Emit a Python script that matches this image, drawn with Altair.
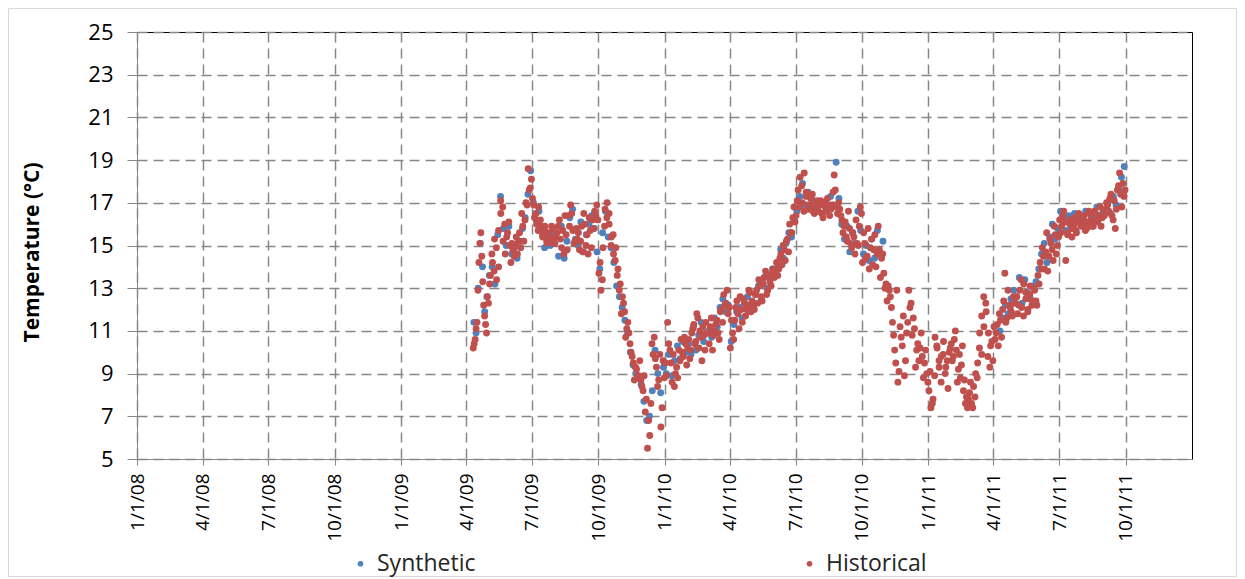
import altair as alt
import pandas as pd

# ---------------- data ----------------
# Historical water temperature (°C); one inner list per month.
# Two readings of the dense daily cloud per month (set A and set B).
hist_start_2009 = "2009-04-10"   # Apr 2009 .. Dec 2009
hist_2009_a = [
    [10.2, 10.6, 11.4, 14.2, 15.6, 13.3, 11.7, 10.9],
    [12.3, 13.6, 14.2, 15.3, 13.4, 14.0, 17.1, 16.8, 16.0, 15.4, 16.1],
    [14.2, 14.8, 15.0, 14.6, 15.6, 16.5, 15.2, 17.0, 18.6, 17.7],
    [17.2, 16.3, 16.0, 16.8, 15.9, 15.4, 15.7, 15.2, 15.6, 15.3, 15.8],
    [15.1, 15.6, 16.2, 14.9, 14.6, 15.5, 16.4, 16.9, 15.7, 15.2],
    [15.3, 14.8, 15.9, 16.5, 15.0, 14.6, 15.7, 16.2, 16.6, 16.9],
    [13.7, 12.9, 14.9, 16.7, 17.0, 16.0, 15.0, 15.5, 14.3, 13.6, 12.9],
    [11.8, 12.3, 10.7, 11.4, 10.4, 9.8, 8.7, 9.2, 8.9, 8.7],
    [8.2, 7.2, 5.5, 6.1, 10.4, 10.7, 9.3, 8.7, 6.5, 9.6],
]
hist_2009_b = [
    [10.4, 11.1, 12.9, 15.1, 14.5, 12.2, 11.3, 12.6],
    [13.2, 14.6, 13.8, 14.9, 15.7, 16.5, 15.2, 14.6, 15.6, 15.0],
    [15.1, 14.5, 15.4, 15.2, 14.9, 15.9, 16.2, 16.9, 17.6, 18.1],
    [16.9, 16.5, 15.7, 16.2, 15.5, 15.9, 15.1, 15.5, 15.9, 15.1],
    [15.4, 15.9, 15.3, 15.7, 16.4, 14.8, 15.9, 16.5, 15.1, 15.8],
    [15.6, 15.2, 14.7, 16.0, 15.5, 16.3, 14.9, 15.8, 16.4, 16.2],
    [14.2, 13.4, 15.9, 16.3, 16.5, 15.4, 14.6, 14.9, 13.9, 13.2],
    [12.6, 11.9, 11.1, 10.9, 10.0, 9.5, 9.3, 8.9, 9.6, 8.4],
    [8.9, 7.8, 6.8, 7.6, 9.9, 9.7, 8.4, 9.9, 7.4, 8.8],
]
hist_start_2010 = "2010-01-01"   # Jan 2010 .. Dec 2010
hist_2010_a = [
    [9.5, 11.4, 10.1, 8.6, 8.4, 9.3, 10.1, 10.6, 9.8, 10.4],
    [10.2, 9.7, 10.9, 11.3, 10.5, 11.6, 11.0, 9.6, 10.8, 11.4],
    [10.9, 11.2, 10.1, 11.0, 11.5, 10.6, 12.0, 12.7, 12.3, 11.8],
    [10.2, 10.9, 11.5, 12.4, 11.1, 12.0, 12.5, 11.7, 12.2, 12.8],
    [12.4, 12.0, 12.9, 13.4, 12.6, 13.2, 13.8, 12.9, 13.3, 13.7],
    [13.5, 14.2, 13.9, 14.6, 15.0, 14.3, 15.3, 16.0, 15.6, 16.8],
    [16.4, 17.6, 18.2, 17.0, 18.4, 17.3, 16.7, 16.9, 17.4, 16.5, 17.0],
    [16.6, 17.1, 16.3, 16.8, 17.2, 16.4, 16.9, 18.3, 16.8, 17.0],
    [16.4, 15.6, 16.1, 15.2, 15.8, 14.9, 15.4, 16.2, 15.0, 16.8],
    [14.2, 15.1, 14.5, 13.9, 15.3, 14.8, 14.0, 15.9, 13.5, 14.6],
    [13.0, 12.4, 12.9, 12.1, 10.8, 9.5, 8.6, 11.2, 10.3, 8.9],
    [10.9, 12.9, 12.3, 11.6, 9.3, 10.4, 10.2, 9.8, 9.5, 9.0],
]
hist_2010_b = [
    [8.9, 10.4, 9.5, 9.9, 9.0, 8.8, 9.6, 10.0, 10.7, 9.4],
    [10.6, 10.1, 11.1, 10.4, 11.8, 10.2, 10.7, 11.2, 10.1, 10.9],
    [10.4, 11.6, 10.8, 11.3, 10.9, 11.9, 11.4, 12.2, 12.9, 12.1],
    [11.5, 10.6, 12.1, 11.8, 12.6, 11.4, 12.3, 12.0, 12.9, 11.9],
    [12.1, 12.7, 12.3, 13.1, 12.4, 13.5, 12.7, 13.6, 13.1, 13.9],
    [13.8, 13.6, 14.4, 14.1, 14.8, 15.2, 14.7, 15.6, 16.3, 16.1],
    [17.1, 16.8, 17.8, 16.6, 17.5, 16.9, 17.2, 16.6, 16.9, 17.1],
    [16.9, 16.5, 17.0, 16.6, 16.9, 16.7, 17.5, 17.6, 16.5, 16.7],
    [16.2, 15.9, 15.4, 16.6, 15.1, 15.6, 14.6, 15.1, 15.9, 16.5],
    [15.6, 14.4, 15.8, 14.9, 14.1, 15.5, 14.6, 14.8, 14.4, 13.7],
    [13.2, 13.1, 12.6, 11.4, 10.1, 12.9, 9.1, 10.7, 11.7, 9.6],
    [11.4, 12.1, 10.8, 11.1, 10.1, 9.6, 10.9, 8.8, 10.1, 8.6],
]
hist_start_2011 = "2011-01-01"   # Jan 2011 .. Sep 2011
hist_2011_a = [
    [8.2, 7.4, 7.8, 10.7, 10.2, 9.3, 8.6, 9.9, 9.0, 9.6, 10.0],
    [10.4, 9.8, 11.0, 8.6, 9.9, 9.4, 8.2, 7.6, 7.4, 8.1],
    [7.6, 8.4, 9.0, 9.5, 10.9, 11.7, 12.6, 12.3, 9.8, 9.3, 10.5],
    [11.2, 10.9, 10.3, 11.5, 12.0, 13.7, 11.6, 12.2, 11.9, 12.6],
    [12.3, 11.8, 12.9, 12.1, 13.2, 12.5, 11.9, 12.7, 12.2, 13.0, 12.4],
    [13.6, 14.2, 14.9, 13.9, 15.6, 14.5, 15.1, 14.3, 15.5, 15.0],
    [16.2, 15.9, 16.6, 14.3, 15.6, 16.0, 15.8, 16.3, 15.7, 16.1, 16.4],
    [16.0, 16.4, 15.8, 16.6, 16.2, 15.9, 16.5, 16.1, 16.8, 16.3],
    [16.4, 17.0, 16.6, 17.4, 16.2, 15.8, 17.6, 18.4, 16.8, 17.3],
]
hist_2011_b = [
    [9.1, 7.6, 8.9, 10.3, 9.6, 9.8, 10.5, 9.3, 8.3, 10.2],
    [9.6, 10.6, 10.1, 9.2, 8.8, 10.3, 8.7, 7.9, 7.8, 8.6],
    [7.4, 7.9, 8.8, 10.2, 9.9, 11.2, 11.9, 10.9, 10.3, 9.6],
    [10.6, 11.3, 11.8, 10.7, 12.4, 11.4, 12.9, 12.1, 11.7, 12.3],
    [12.6, 12.2, 13.4, 11.7, 12.8, 12.0, 13.1, 12.4, 12.9, 12.2],
    [13.2, 13.9, 14.5, 14.7, 13.8, 15.3, 14.8, 15.9, 14.6, 15.4],
    [15.6, 16.4, 16.1, 15.5, 16.2, 15.4, 16.0, 15.6, 16.5, 15.9],
    [16.3, 15.7, 16.1, 16.5, 15.9, 16.6, 16.2, 16.4, 15.9, 16.7],
    [16.6, 16.9, 17.2, 16.4, 17.1, 16.7, 17.8, 17.4, 17.9, 17.6],
]

# Synthetic temperature (°C); one inner list per month.
syn_start_a = "2009-04-10"       # Apr 2009 .. Oct 2010
syn_a = [
    [11.4, 10.9, 13.0, 15.1, 14.0, 11.9, 12.6],
    [13.6, 14.0, 13.2, 15.5, 17.3, 15.8, 15.0, 15.9],
    [14.6, 14.9, 14.4, 15.2, 15.8, 16.3, 17.4, 18.5],
    [17.0, 16.2, 16.6, 15.7, 14.9, 15.5, 15.0, 15.6],
    [15.4, 14.5, 15.9, 14.4, 15.2, 16.3, 16.7, 15.3],
    [15.0, 16.1, 14.7, 15.5, 16.0, 16.4, 15.8, 14.7],
    [13.9, 15.6, 16.6, 15.4, 14.9, 14.2, 13.1, 12.6],
    [12.1, 11.5, 10.9, 10.0, 9.4, 9.0, 8.8, 8.5],
    [7.7, 6.8, 7.0, 8.2, 10.1, 9.0, 8.1, 9.3],
    [9.0, 9.9, 8.9, 9.6, 10.3, 9.7, 10.5, 10.0],
    [10.4, 9.9, 11.2, 10.1, 10.8, 11.4, 10.5, 10.9],
    [11.0, 10.7, 11.6, 11.2, 12.1, 12.5, 11.9, 12.2],
    [10.5, 11.3, 11.9, 12.1, 11.6, 12.3, 12.6, 12.0],
    [12.2, 12.7, 13.1, 12.5, 13.5, 13.0, 13.6, 13.9],
    [13.8, 14.1, 14.8, 14.4, 15.1, 15.6, 15.4, 16.2],
    [16.6, 17.3, 17.9, 16.9, 17.5, 16.8, 17.1, 16.6],
    [16.9, 16.5, 17.0, 16.7, 17.3, 16.9, 18.9, 17.2],
    [16.0, 15.3, 15.9, 14.7, 15.6, 15.1, 16.6, 15.7],
    [14.6, 15.0, 14.3, 15.3, 14.4, 15.7, 14.6, 15.2],
]
syn_start_b = "2011-04-08"       # Apr 2011 .. Sep 2011
syn_b = [
    [11.0, 11.6, 12.2, 11.8, 12.5, 12.9],
    [12.6, 13.5, 12.3, 13.4, 12.8, 12.5, 13.1, 13.3],
    [13.9, 14.6, 15.1, 14.2, 15.4, 16.0, 15.3, 15.8],
    [16.6, 16.2, 15.7, 16.4, 15.9, 16.5, 16.3, 16.1],
    [16.2, 16.6, 15.9, 16.4, 16.1, 16.8, 16.3, 16.5],
    [16.7, 17.0, 16.5, 17.3, 16.9, 17.6, 18.2, 18.7],
]

series_names = ["Synthetic", "Historical"]
series_colors = ["#4F81BD", "#C0504D"]
y_ticks = list(range(5, 26, 2))
tick_months = [(y, m) for y in range(2008, 2012) for m in (1, 4, 7, 10)]


def expand(first_day, month_lists, name, phase=0.5):
    """Spread each month's values evenly over that month."""
    rows = []
    first = pd.Timestamp(first_day)
    p0 = first.to_period("M")
    for i, vals in enumerate(month_lists):
        p = p0 + i
        s = first if i == 0 else p.start_time
        e = (p + 1).start_time
        n = len(vals)
        for j, v in enumerate(vals):
            t = s + (e - s) * ((j + phase) / n)
            rows.append({"date": t.strftime("%Y-%m-%dT%H:%M:%SZ"),
                         "temp": v, "series": name})
    return rows


hist_rows = []
for start, a, b in [(hist_start_2009, hist_2009_a, hist_2009_b),
                    (hist_start_2010, hist_2010_a, hist_2010_b),
                    (hist_start_2011, hist_2011_a, hist_2011_b)]:
    hist_rows += expand(start, a, "Historical", 0.25)
    hist_rows += expand(start, b, "Historical", 0.75)
hist_df = pd.DataFrame(hist_rows)
syn_df = pd.DataFrame(expand(syn_start_a, syn_a, "Synthetic")
                      + expand(syn_start_b, syn_b, "Synthetic"))

W, H = 1055, 427
PAD_B = 118
FONT = "Open Sans"

x_enc = alt.X(
    "date:T",
    scale=alt.Scale(type="utc", nice=False,
                    domain=[alt.DateTime(year=2008, month=1, date=1, utc=True),
                            alt.DateTime(year=2012, month=1, date=1, utc=True)]),
    axis=alt.Axis(
        values=[alt.DateTime(year=y, month=m, date=1, utc=True) for y, m in tick_months],
        format="%-m/%-d/%y", labelAngle=270, tickSize=6, labelPadding=8,
        labelFontSize=19, title=None,
    ),
)
y_enc = alt.Y(
    "temp:Q",
    scale=alt.Scale(domain=[5, 25], nice=False, zero=False),
    axis=alt.Axis(values=y_ticks, tickSize=10, labelPadding=14, labelFontSize=22,
                  title="Temperature (°C)", titleFontWeight="bold",
                  titleFontSize=21, titlePadding=45, titleY=220),
)
color_enc = alt.Color(
    "series:N",
    scale=alt.Scale(domain=series_names, range=series_colors),
    legend=alt.Legend(
        title=None, orient="none", legendX=212, legendY=520,
        direction="horizontal", columns=2, columnPadding=322,
        symbolType="circle", symbolSize=32, labelFontSize=23,
        labelFont=FONT, labelColor="#262626", labelOffset=5, padding=0,
    ),
)

border = alt.Chart(pd.DataFrame({"k": [0]})).mark_rect(
    fillOpacity=0, stroke="#D9D9D9", strokeWidth=1, clip=False
).encode(
    x=alt.value(-128.5), x2=alt.value(W + 44.5),
    y=alt.value(-23.5), y2=alt.value(H + PAD_B - 0.5),
)

syn = alt.Chart(syn_df).mark_circle(size=48, opacity=1).encode(
    x=x_enc, y=y_enc, color=color_enc)
hist = alt.Chart(hist_df).mark_circle(size=48, opacity=1).encode(
    x=x_enc, y=y_enc, color=color_enc)

chart = alt.layer(border, syn, hist).properties(
    width=W, height=H,
    autosize=alt.AutoSizeParams(type="none"),
    padding={"left": 129, "top": 24, "right": 45, "bottom": PAD_B},
).configure_view(
    stroke="#000000", strokeWidth=1,
).configure_axis(
    labelFont=FONT, labelColor="#000000",
    titleFont=FONT, titleColor="#000000",
    domainColor="#868686", tickColor="#868686",
    grid=True, gridColor="#878787", gridDash=[10, 6], gridWidth=1.5,
)

chart.save("out.html", embed_options={"renderer": "svg", "actions": False})
